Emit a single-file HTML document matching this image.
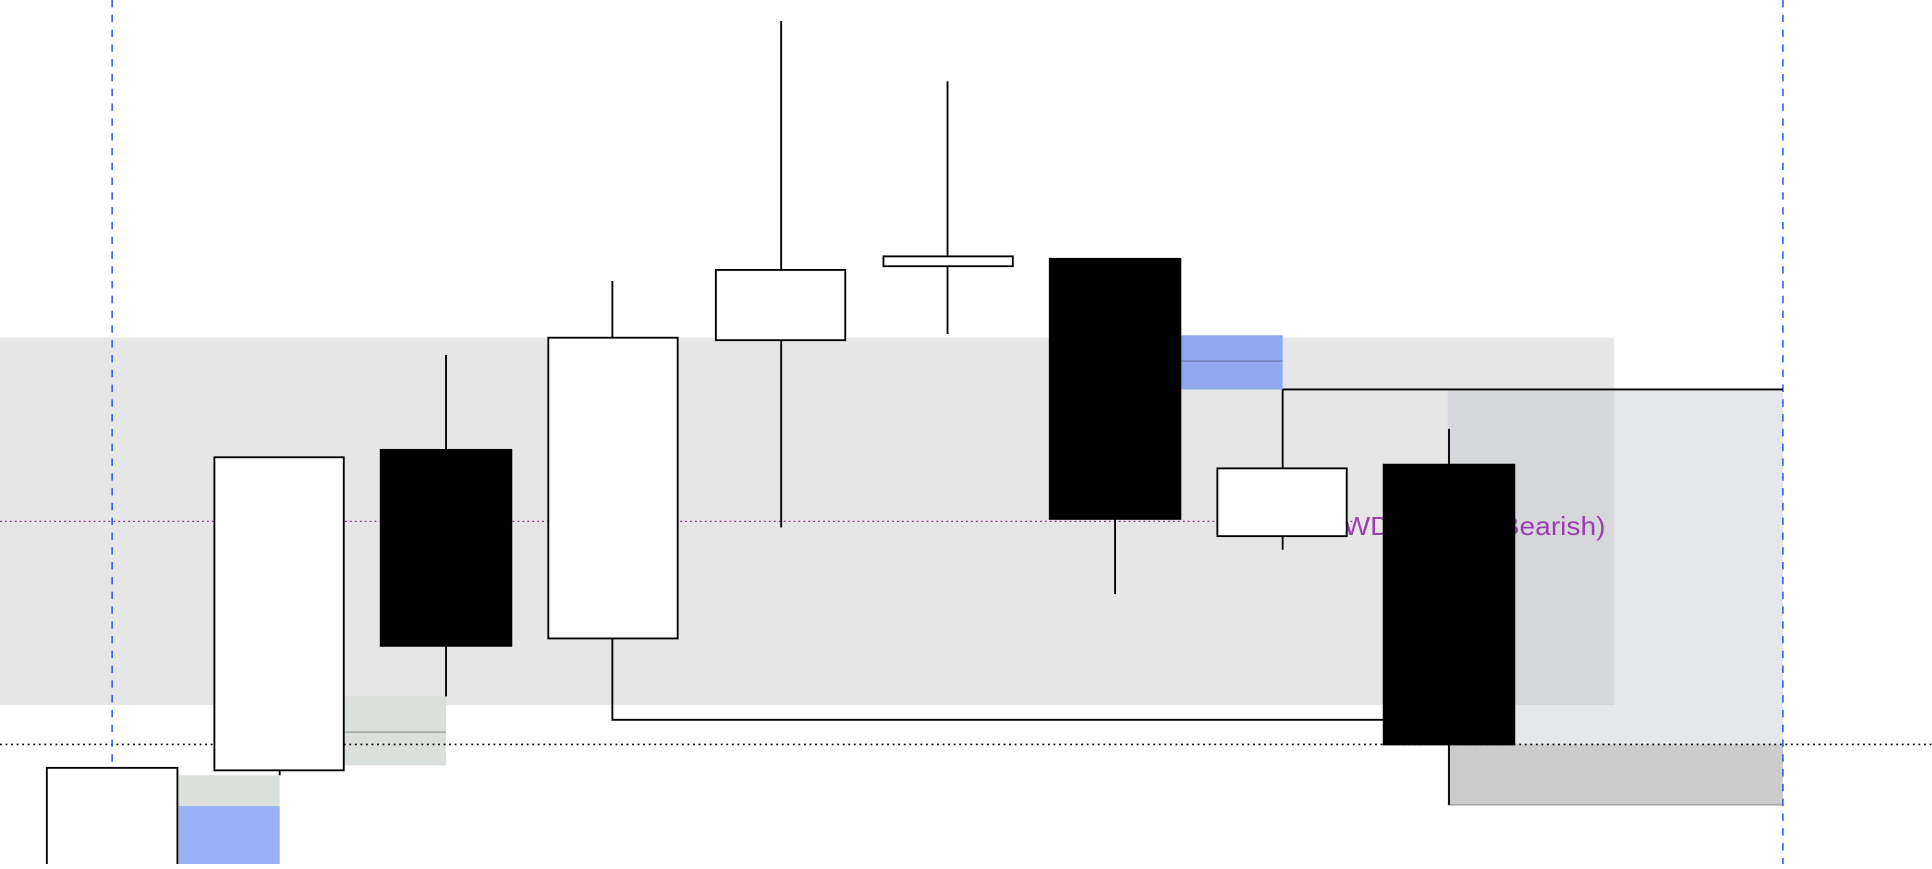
<!DOCTYPE html>
<html><head><style>html,body{margin:0;padding:0;background:#fff;overflow:hidden}</style></head>
<body>
<svg width="1932" height="864" viewBox="0 0 1568 701" preserveAspectRatio="none" xmlns="http://www.w3.org/2000/svg">
<rect x="0" y="0" width="1568" height="701" fill="#fff"/>
<rect x="0" y="274" width="1310" height="298" fill="#e6e6e6"/>
<rect x="1175" y="316" width="272" height="288" fill="#e6e7eb"/>
<rect x="1175" y="316" width="135" height="256" fill="#d6d7db"/>
<rect x="1175" y="604" width="272" height="49" fill="#cccccc"/>
<line x1="1175" y1="653" x2="1447" y2="653" stroke="#999" stroke-width="1"/>
<rect x="958" y="272" width="83" height="44" fill="#8fa8f0"/>
<line x1="958" y1="293" x2="1041" y2="293" stroke="#6a7bb0" stroke-width="1"/>
<rect x="279" y="565" width="83" height="56" fill="#dce0dc"/>
<line x1="279" y1="594" x2="362" y2="594" stroke="#a0a4a0" stroke-width="1.2"/>
<rect x="145" y="629" width="82" height="25" fill="#dce0dc"/>
<rect x="145" y="654" width="82" height="47" fill="#9ab0f8"/>
<line x1="0" y1="423" x2="1100" y2="423" stroke="#8a3a8a" stroke-width="1" stroke-dasharray="1.5,2.5"/>
<text x="1074" y="434" font-family="Liberation Sans, sans-serif" font-size="21" fill="#9a3fb0" textLength="229" lengthAdjust="spacingAndGlyphs">NWDT Open (Bearish)</text>
<line x1="0" y1="604" x2="1568" y2="604" stroke="#000" stroke-width="1.3" stroke-dasharray="1.5,3"/>
<line x1="91" y1="0" x2="91" y2="701" stroke="#3a5cf0" stroke-width="1.3" stroke-dasharray="6,6"/>
<line x1="1447" y1="0" x2="1447" y2="701" stroke="#3a5cf0" stroke-width="1.3" stroke-dasharray="6,6"/>
<g stroke="#000" stroke-width="1.5">
<line x1="1041" y1="316" x2="1447" y2="316"/>
<line x1="1041" y1="316" x2="1041" y2="446"/>
<polyline points="497,518 497,584 1123,584" fill="none"/>
<line x1="227" y1="625" x2="227" y2="629"/>
<line x1="362" y1="288" x2="362" y2="565"/>
<line x1="497" y1="228" x2="497" y2="274"/>
<line x1="634" y1="17" x2="634" y2="428"/>
<line x1="769" y1="66" x2="769" y2="271"/>
<line x1="905" y1="421" x2="905" y2="482"/>
<line x1="1176" y1="348" x2="1176" y2="653"/>
<rect x="38" y="623" width="106" height="90" fill="#fff"/>
<rect x="174" y="371" width="105" height="254" fill="#fff"/>
<rect x="309" y="365" width="106" height="159" fill="#000"/>
<rect x="445" y="274" width="105" height="244" fill="#fff"/>
<rect x="581" y="219" width="105" height="57" fill="#fff"/>
<rect x="717" y="208" width="105" height="8" fill="#fff"/>
<rect x="852" y="210" width="106" height="211" fill="#000"/>
<rect x="988" y="380" width="105" height="55" fill="#fff"/>
<rect x="1123" y="377" width="106" height="227" fill="#000"/>
</g>
</svg>
</body></html>
